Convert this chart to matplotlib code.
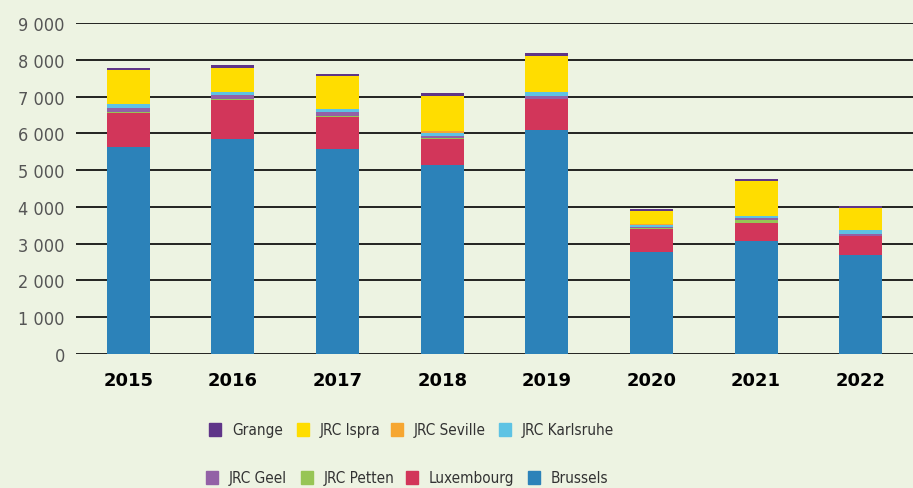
import matplotlib.pyplot as plt
import numpy as np
from matplotlib.patches import Rectangle

years = ['2015', '2016', '2017', '2018', '2019', '2020', '2021', '2022']

# stacked from bottom to top
brussels   = [5640, 5850, 5580, 5150, 6080, 2770, 3070, 2700]
luxembourg = [920, 1050, 860, 700, 850, 625, 490, 510]
jrc_petten = [30, 27, 27, 27, 10, 25, 80, 10]
jrc_geel   = [100, 110, 110, 50, 75, 35, 55, 50]
jrc_karlsruhe = [105, 80, 80, 80, 100, 65, 55, 100]
jrc_seville = [10, 10, 10, 55, 10, 15, 10, 10]
jrc_ispra  = [920, 650, 890, 950, 980, 355, 945, 590]
grange     = [55, 80, 55, 80, 80, 55, 55, 55]

series = [
    ('Brussels', brussels, '#2c82b9'),
    ('Luxembourg', luxembourg, '#d2365a'),
    ('JRC Petten', jrc_petten, '#97c555'),
    ('JRC Geel', jrc_geel, '#9361a6'),
    ('JRC Karlsruhe', jrc_karlsruhe, '#5ec3e4'),
    ('JRC Seville', jrc_seville, '#f6a631'),
    ('JRC Ispra', jrc_ispra, '#ffdd00'),
    ('Grange', grange, '#5f3588'),
]

bg = '#edf3e2'
plt.rcParams['font.family'] = ['DejaVu Sans']
plt.rcParams['font.stretch'] = 'condensed'

W, H = 913, 489
fig = plt.figure(figsize=(W / 100, H / 100), dpi=100, facecolor=bg)
ax = fig.add_axes([76/W, 134/H, 1 - 76/W, 331/H])
ax.set_facecolor(bg)

x = np.arange(len(years))
bottom = np.zeros(len(years))
for name, vals, col in series:
    ax.bar(x, vals, 0.41, bottom=bottom, color=col, zorder=3)
    bottom += np.array(vals)

ax.set_ylim(0, 9000)
ax.set_xlim(-0.5, len(years) - 0.5)
ax.set_yticks(range(0, 9001, 1000))
ax.set_yticklabels([f'{v:,}'.replace(',', ' ') for v in range(0, 9001, 1000)],
                   color='#555555', fontsize=13, fontweight='light')
ax.yaxis.grid(True, color='black', linewidth=1.2, zorder=0)
ax.set_xticks(x)
ax.set_xticklabels(years, fontweight='bold', fontsize=13, fontstretch='normal')
ax.tick_params(axis='both', length=0)
ax.tick_params(axis='y', pad=8)
ax.tick_params(axis='x', pad=12)
for s in ax.spines.values():
    s.set_visible(False)

# legend laid out like the original: two flowing rows
cmap = {n: c for n, _, c in series}
legend_rows = [
    (431, [('Grange', 209), ('JRC Ispra', 297), ('JRC Seville', 391), ('JRC Karlsruhe', 499)]),
    (479, [('JRC Geel', 206), ('JRC Petten', 301), ('Luxembourg', 406), ('Brussels', 528)]),
]
for yy, items in legend_rows:
    for name, px in items:
        fig.add_artist(Rectangle((px / W, 1 - (yy + 6) / H), 12 / W, 13 / H,
                                 transform=fig.transFigure, color=cmap[name]))
        fig.text((px + 23) / W, 1 - yy / H, name, fontsize=11, color='#333333',
                 va='center', ha='left', fontstretch='condensed')

fig.savefig('out.png', dpi=100, facecolor=bg)
